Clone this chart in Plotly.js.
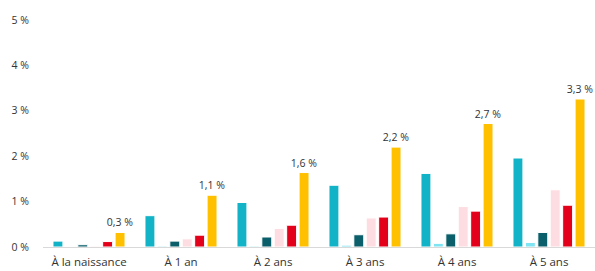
<!DOCTYPE html>
<html><head><meta charset="utf-8">
<script src="https://cdn.plot.ly/plotly-3.0.1.min.js"></script>
<style>html,body{margin:0;padding:0;background:#fff}#chart{width:595px;height:271px}</style>
</head><body><div id="chart"></div>
<script>
const categories = ["À la naissance", "À 1 an", "À 2 ans", "À 3 ans", "À 4 ans", "À 5 ans"];
const seriesA = [0.13, 0.69, 0.98, 1.36, 1.62, 1.96];
const seriesB = [0.01, 0.02, 0.02, 0.04, 0.08, 0.10];
const seriesC = [0.05, 0.13, 0.22, 0.27, 0.29, 0.32];
const seriesD = [0.02, 0.18, 0.41, 0.64, 0.89, 1.26];
const seriesE = [0.12, 0.26, 0.48, 0.66, 0.79, 0.92];
const seriesF = [0.32, 1.14, 1.64, 2.20, 2.72, 3.26];
const colors = ["#12b3c7", "#7fe4f1", "#0b5f6a", "#fddde1", "#e3001b", "#ffc000"];
const allSeries = [seriesA, seriesB, seriesC, seriesD, seriesE, seriesF];

const traces = allSeries.map((s, i) => {
  const t = {
    type: "bar", x: categories, y: s,
    marker: {color: colors[i], line: {color: "#ffffff", width: 1}},
    hoverinfo: "none", cliponaxis: false
  };
  if (i === 5) {
    t.text = s.map(v => v.toFixed(1).replace(".", ",") + "\u00a0%");
    t.texttemplate = "%{text}";
    t.textposition = "outside";
    t.constraintext = "none";
    t.textfont = {family: "Open Sans, Liberation Sans, sans-serif", size: 10.5, color: "#333333"};
  }
  return t;
});

const layout = {
  width: 595, height: 271,
  margin: {l: 43, r: 0, t: 20, b: 24},
  paper_bgcolor: "#fff", plot_bgcolor: "#fff",
  showlegend: false,
  barmode: "group", bargap: 0.19, bargroupgap: 0.2,
  separators: ", ",
  font: {family: "Open Sans, Liberation Sans, sans-serif", size: 11, color: "#333333"},
  xaxis: {
    showgrid: false, showline: true, linecolor: "#d9d9d9", linewidth: 1,
    ticks: "", ticklabelstandoff: 4, tickfont: {size: 11.5, color: "#333"}, fixedrange: true
  },
  yaxis: {
    range: [0, 5], dtick: 1, showgrid: false, zeroline: false, showline: false,
    ticksuffix: "\u00a0%", ticklabelstandoff: 13, tickfont: {size: 10.5, color: "#333"}, fixedrange: true
  }
};
Plotly.newPlot("chart", traces, layout, {displayModeBar: false, staticPlot: true});
</script></body></html>
